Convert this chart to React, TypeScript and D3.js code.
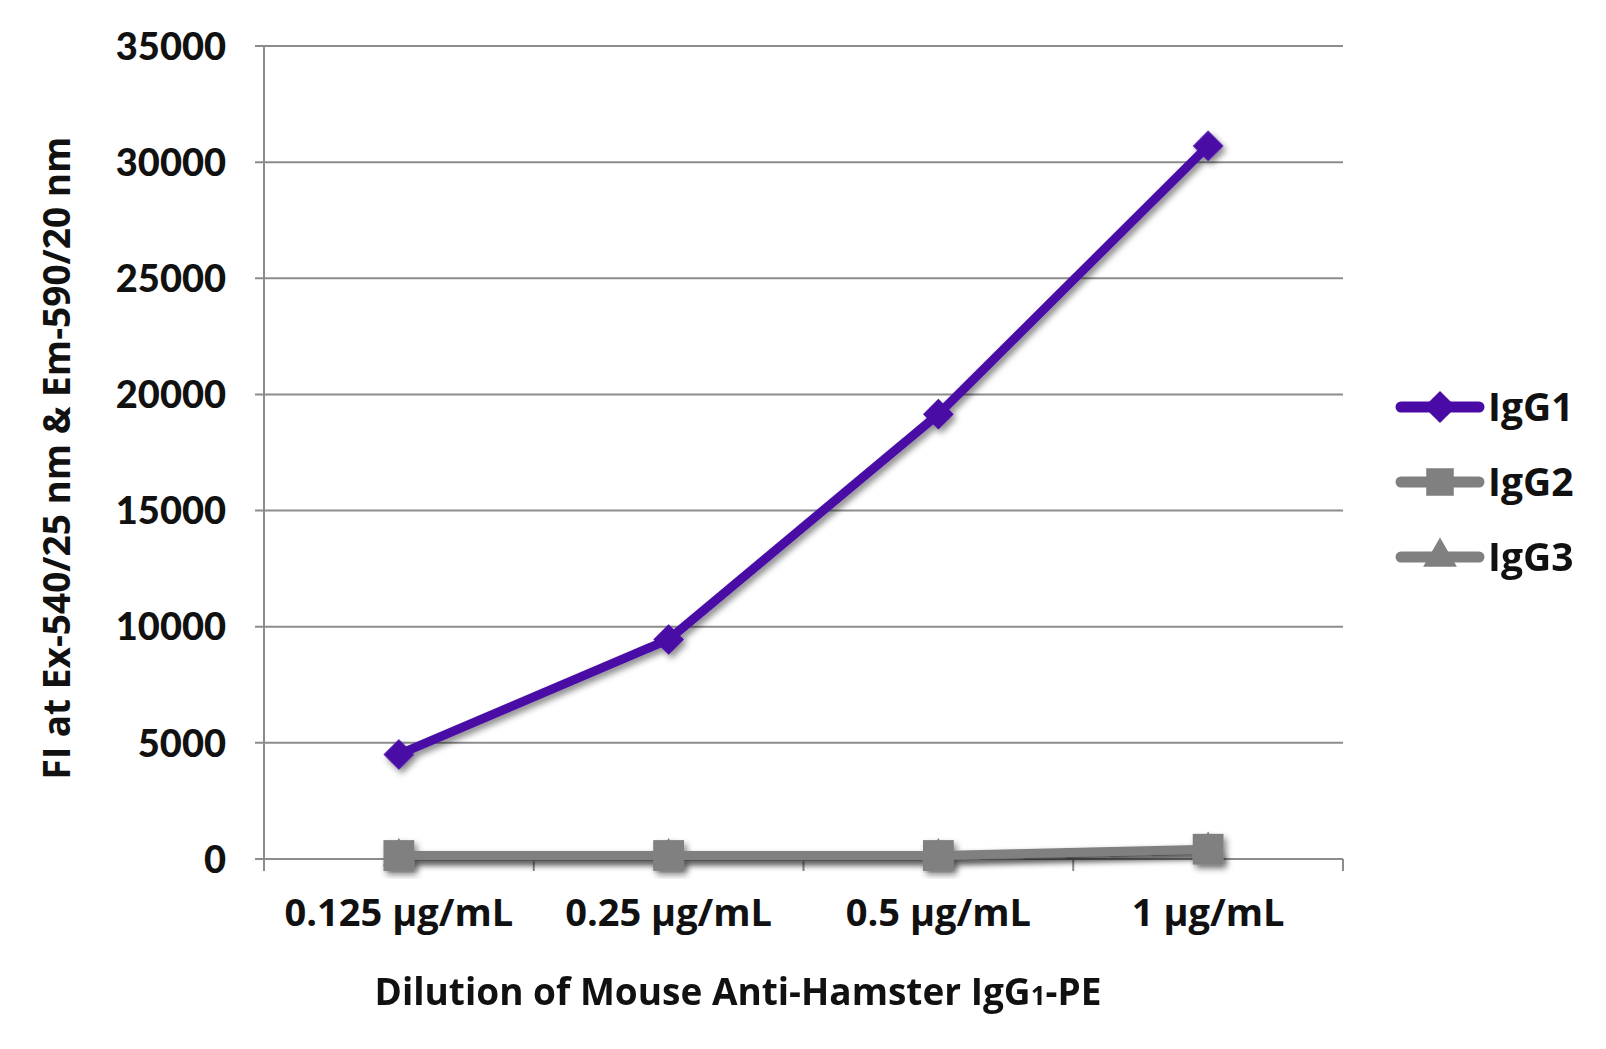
import * as d3 from "d3";
import { useEffect, useRef } from "react";

const categories = ["0.125 µg/mL", "0.25 µg/mL", "0.5 µg/mL", "1 µg/mL"];
const igg1 = [4500, 9450, 19150, 30700];
const igg2 = [150, 150, 150, 420];
const igg3 = [100, 100, 100, 380];
const yTicks = [0, 5000, 10000, 15000, 20000, 25000, 30000, 35000];

const SERIES = [
  { name: "IgG1", values: igg1, color: "#4a0aa6", symbol: "diamond" },
  { name: "IgG2", values: igg2, color: "#808080", symbol: "square" },
  { name: "IgG3", values: igg3, color: "#808080", symbol: "triangle" },
];

const W = 1606;
const H = 1049;
const NARROW = "'Liberation Sans Narrow', 'Open Sans', sans-serif";

export default function App() {
  const ref = useRef<SVGSVGElement>(null);

  useEffect(() => {
    document.body.style.margin = "0";
    if (!ref.current) return;
    const svg = d3.select(ref.current);
    svg.selectAll("*").remove();
    svg.attr("width", W).attr("height", H);

    const left = 264;
    const right = 1343;
    const top = 46;
    const bottom = 859;

    const x = d3.scaleBand().domain(categories).range([left, right]);
    const y = d3.scaleLinear().domain([0, 35000]).range([bottom, top]);

    const defs = svg.append("defs");
    const f = defs
      .append("filter")
      .attr("id", "shadow")
      .attr("x", "-20%")
      .attr("y", "-20%")
      .attr("width", "140%")
      .attr("height", "140%");
    f.append("feDropShadow")
      .attr("dx", 3)
      .attr("dy", 4)
      .attr("stdDeviation", 3)
      .attr("flood-color", "#000")
      .attr("flood-opacity", 0.45);

    svg.append("rect").attr("width", W).attr("height", H).attr("fill", "#fff");

    // gridlines + y ticks
    const gy = svg.append("g");
    gy.selectAll("line")
      .data(yTicks)
      .join("line")
      .attr("x1", left - 9)
      .attr("x2", right)
      .attr("y1", (d) => y(d))
      .attr("y2", (d) => y(d))
      .attr("stroke", "#8c8c8c")
      .attr("stroke-width", 2);
    gy.selectAll("text")
      .data(yTicks)
      .join("text")
      .attr("x", left - 38)
      .attr("y", (d) => y(d))
      .attr("dy", "0.36em")
      .attr("text-anchor", "end")
      .attr("font-family", "Lato, 'DejaVu Sans', sans-serif")
      .attr("font-weight", 900)
      .attr("font-size", 38)
      .attr("fill", "#111")
      .text((d) => String(d));

    // axes lines
    svg.append("line")
      .attr("x1", left).attr("x2", left)
      .attr("y1", top).attr("y2", bottom + 12)
      .attr("stroke", "#8c8c8c").attr("stroke-width", 2);
    const xEdges = [...categories.map((c) => x(c) ?? 0), right];
    svg.append("g")
      .selectAll("line")
      .data(xEdges)
      .join("line")
      .attr("x1", (d) => d).attr("x2", (d) => d)
      .attr("y1", bottom).attr("y2", bottom + 12)
      .attr("stroke", "#8c8c8c").attr("stroke-width", 2);

    svg.append("g")
      .selectAll("text")
      .data(categories)
      .join("text")
      .attr("x", (d) => (x(d) ?? 0) + x.bandwidth() / 2)
      .attr("y", 926)
      .attr("text-anchor", "middle")
      .attr("font-family", NARROW)
      .attr("font-weight", 700)
      .attr("font-size", 38)
      .attr("fill", "#111")
      .text((d) => d);

    const cx = (i: number) => (x(categories[i]) ?? 0) + x.bandwidth() / 2;
    const line = d3
      .line<number>()
      .x((_, i) => cx(i))
      .y((d) => y(d));

    const symType: Record<string, d3.SymbolType> = {
      diamond: d3.symbolSquare,
      square: d3.symbolSquare,
      triangle: d3.symbolTriangle,
    };
    const symSize: Record<string, number> = { diamond: 470, square: 950, triangle: 450 };
    const symRot: Record<string, number> = { diamond: 45, square: 0, triangle: 0 };

    [...SERIES].reverse().forEach((s) => {
      const g = svg.append("g").attr("filter", "url(#shadow)");
      g.append("path")
        .attr("d", line(s.values))
        .attr("fill", "none")
        .attr("stroke", s.color)
        .attr("stroke-width", 9)
        .attr("stroke-linejoin", "round");
      g.selectAll("path.m")
        .data(s.values)
        .join("path")
        .attr("class", "m")
        .attr("transform", (d, i) => `translate(${cx(i)},${y(d)}) rotate(${symRot[s.symbol]})`)
        .attr("d", d3.symbol().type(symType[s.symbol]).size(symSize[s.symbol])())
        .attr("fill", s.color);
    });

    // legend
    const lg = svg.append("g");
    SERIES.forEach((s, i) => {
      const ly = 407 + i * 75;
      lg.append("line")
        .attr("x1", 1401).attr("x2", 1479)
        .attr("y1", ly).attr("y2", ly)
        .attr("stroke", s.color).attr("stroke-width", 11)
        .attr("stroke-linecap", "round");
      lg.append("path")
        .attr("transform", `translate(1440,${ly}) rotate(${symRot[s.symbol]})`)
        .attr("d", d3.symbol().type(symType[s.symbol]).size(symSize[s.symbol] * (s.symbol === "square" ? 0.8 : 1.1))())
        .attr("fill", s.color);
      lg.append("text")
        .attr("x", 1488)
        .attr("y", ly)
        .attr("dy", "0.36em")
        .attr("font-family", NARROW)
        .attr("font-weight", 700)
        .attr("font-size", 39)
        .attr("fill", "#111")
        .text(s.name);
    });

    // axis titles
    const xt = svg.append("text")
      .attr("x", 738)
      .attr("y", 1005)
      .attr("text-anchor", "middle")
      .attr("font-family", NARROW)
      .attr("font-weight", 700)
      .attr("font-size", 37)
      .attr("fill", "#111");
    xt.append("tspan").text("Dilution of Mouse Anti-Hamster IgG");
    xt.append("tspan").attr("font-size", 26).text("1");
    xt.append("tspan").text("-PE");

    svg.append("text")
      .attr("transform", "translate(70,458) rotate(-90)")
      .attr("text-anchor", "middle")
      .attr("font-family", NARROW)
      .attr("font-weight", 700)
      .attr("font-size", 37)
      .attr("fill", "#111")
      .text("FI at Ex-540/25 nm & Em-590/20 nm");
  }, []);

  return <svg ref={ref} style={{ display: "block" }} />;
}
